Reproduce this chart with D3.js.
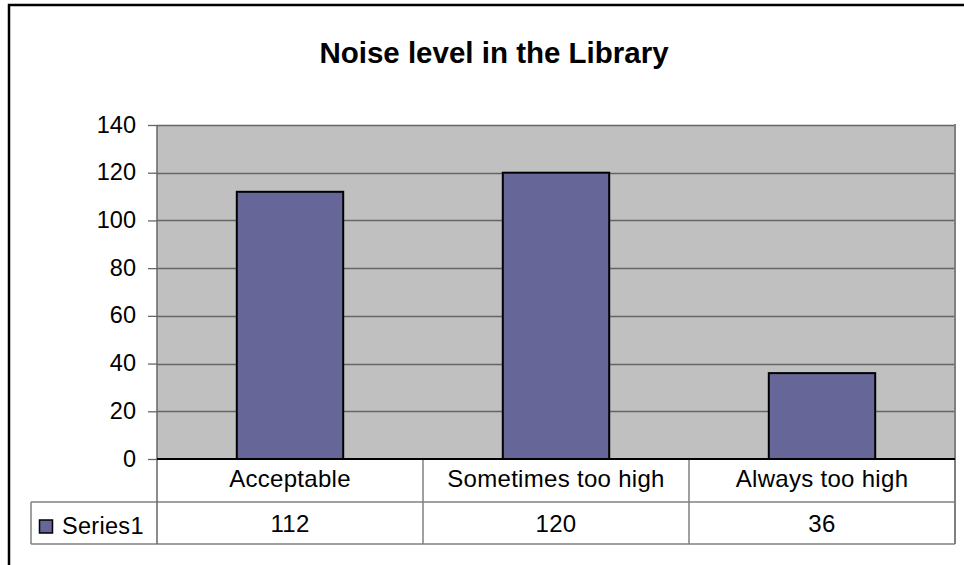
<!DOCTYPE html>
<html><head><meta charset="utf-8">
<script src="https://cdn.jsdelivr.net/npm/d3@7"></script>
<style>html,body{margin:0;padding:0;background:#fff;overflow:hidden}svg{display:block}text{font-family:"Liberation Sans",Arial,sans-serif;fill:#000}</style>
</head><body>
<script>
const title = "Noise level in the Library";
const categories = ["Acceptable", "Sometimes too high", "Always too high"];
const seriesName = "Series1";
const values = [112, 120, 36];
const yTicks = [0, 20, 40, 60, 80, 100, 120, 140];

const W = 964, H = 565;
const svg = d3.select("body").append("svg").attr("width", W).attr("height", H);

const L = 157, R = 955, T = 125, B = 459;
const catRowB = 502, valRowB = 544, tableL = 31;

const x = d3.scaleBand().domain(categories).range([L, R]).padding(0);
const y = d3.scaleLinear().domain([0, 140]).range([B, T]);

// outer border
svg.append("rect").attr("x", 9).attr("y", 5).attr("width", 1000).attr("height", 1000)
  .attr("fill", "#fff").attr("stroke", "#000").attr("stroke-width", 2.5);

// title
svg.append("text").attr("x", 494).attr("y", 63).attr("text-anchor", "middle")
  .attr("font-size", 29.5).attr("font-weight", "bold").text(title);

// plot area
svg.append("rect").attr("x", L).attr("y", T).attr("width", R - L).attr("height", B - T).attr("fill", "#c0c0c0");

// gridlines
svg.append("g").selectAll("line").data(yTicks.filter(d => d > 0)).join("line")
  .attr("x1", L).attr("x2", R).attr("y1", d => Math.round(y(d)) + 0.5).attr("y2", d => Math.round(y(d)) + 0.5)
  .attr("stroke", "#666").attr("stroke-width", 1.3);

// y axis
const yAxis = d3.axisLeft(y).tickValues(yTicks).tickSize(9).tickPadding(12).tickSizeOuter(0);
const gy = svg.append("g").attr("transform", `translate(${L},0)`).call(yAxis);
gy.select(".domain").remove();
gy.selectAll(".tick line").attr("stroke", "#666").attr("stroke-width", 1.3);
gy.selectAll(".tick text").attr("font-size", 23.5).attr("font-family", '"Liberation Sans",Arial,sans-serif').attr("fill", "#000").attr("dy", "0.3em");

// bars
const bw = x.bandwidth() * 0.4;
svg.append("g").selectAll("rect").data(values).join("rect")
  .attr("x", (d, i) => x(categories[i]) + (x.bandwidth() - bw) / 2)
  .attr("y", d => y(d)).attr("width", bw).attr("height", d => B - y(d))
  .attr("fill", "#666699").attr("stroke", "#000").attr("stroke-width", 2);

// plot right border
svg.append("line").attr("x1", R).attr("x2", R).attr("y1", T - 1).attr("y2", valRowB)
  .attr("stroke", "#808080").attr("stroke-width", 2);

// table lines
const tl = svg.append("g").attr("stroke", "#808080").attr("stroke-width", 1.5);
tl.append("line").attr("x1", tableL).attr("x2", R).attr("y1", catRowB).attr("y2", catRowB);
tl.append("line").attr("x1", tableL).attr("x2", R).attr("y1", valRowB).attr("y2", valRowB);
tl.append("line").attr("x1", tableL).attr("x2", tableL).attr("y1", catRowB).attr("y2", valRowB);
categories.slice(1).forEach(c => {
  tl.append("line").attr("x1", x(c)).attr("x2", x(c)).attr("y1", B).attr("y2", valRowB);
});
// left axis line
svg.append("line").attr("x1", L).attr("x2", L).attr("y1", T).attr("y2", valRowB)
  .attr("stroke", "#666").attr("stroke-width", 1.5);
// category axis line
svg.append("line").attr("x1", L).attr("x2", R).attr("y1", B).attr("y2", B)
  .attr("stroke", "#000").attr("stroke-width", 2);

// category labels
svg.append("g").selectAll("text").data(categories).join("text")
  .attr("x", d => x(d) + x.bandwidth() / 2).attr("y", 487).attr("text-anchor", "middle")
  .attr("font-size", 24).attr("letter-spacing", 0.3).text(d => d);
// values row
svg.append("g").selectAll("text").data(values).join("text")
  .attr("x", (d, i) => x(categories[i]) + x.bandwidth() / 2).attr("y", 532).attr("text-anchor", "middle")
  .attr("font-size", 24).attr("letter-spacing", 0.3).text(d => d);

// legend key + series name
svg.append("rect").attr("x", 39.5).attr("y", 520).attr("width", 13).attr("height", 13)
  .attr("fill", "#666699").attr("stroke", "#000").attr("stroke-width", 1.5);
svg.append("text").attr("x", 62).attr("y", 534).attr("font-size", 23.5).attr("letter-spacing", 0.3).text(seriesName);
</script>
</body></html>
